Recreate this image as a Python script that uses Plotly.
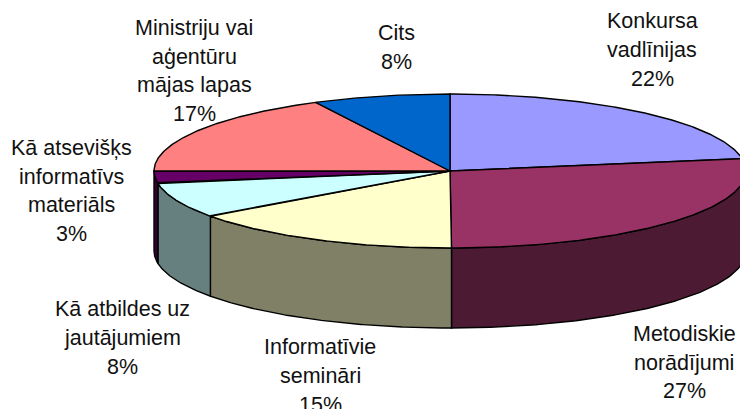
import numpy as np
import plotly.graph_objects as go

# --- data ---
categories = ["Konkursa<br>vadlīnijas", "Metodiskie<br>norādījumi", "Informatīvie<br>semināri",
              "Kā atbildes uz<br>jautājumiem", "Kā atsevišķs<br>informatīvs<br>materiāls",
              "Ministriju vai<br>aģentūru<br>mājas lapas", "Cits"]
values = [22.45, 27.49, 15.1, 7.4, 2.6, 17.5, 7.5]
percent_labels = ["22%", "27%", "15%", "8%", "3%", "17%", "8%"]

# --- styling ---
top_colors = ["#9999FF", "#993366", "#FFFFCC", "#CCFFFF", "#660066", "#FF8080", "#0066CC"]
side_colors = ["#4D1A33", "#4D1A33", "#808066", "#668080", "#330033", "#804040", "#003366"]
label_pos = [(652, 50), (684, 362.5), (320, 376), (122, 338), (71, 191), (194, 71), (396, 47.5)]
LINE_STEP = 28.6
CX, CY, RX, RY, DEPTH = 450, 171, 296, 77, 80
LINE = dict(color="black", width=1.4)
FONT = dict(family="Liberation Sans, Arial, sans-serif", size=21.5, color="#111111")


def ellipse(t_deg, dy=0):
    t = np.radians(t_deg)
    return CX + RX * np.sin(t), CY - RY * np.cos(t) + dy


fractions = np.array(values) / sum(values)
ends = np.cumsum(fractions) * 360
starts = ends - fractions * 360

fig = go.Figure()

# side walls: only the front half of the disc is visible
for s, e, col in zip(starts, ends, side_colors):
    a, b = max(s, 90), min(e, 270)
    if b <= a:
        continue
    t = np.linspace(a, b, 120)
    x1, y1 = ellipse(t)
    x2, y2 = ellipse(t[::-1], DEPTH)
    fig.add_trace(go.Scatter(x=np.r_[x1, x2, x1[0]], y=np.r_[y1, y2, y1[0]], mode="lines",
                             fill="toself", fillcolor=col, line=LINE, hoverinfo="skip"))

# top face
for s, e, col in zip(starts, ends, top_colors):
    t = np.linspace(s, e, 160)
    x1, y1 = ellipse(t)
    fig.add_trace(go.Scatter(x=np.r_[CX, x1, CX], y=np.r_[CY, y1, CY], mode="lines",
                             fill="toself", fillcolor=col, line=LINE, hoverinfo="skip"))

# labels: each line placed on its own so the line step matches the reference
for cat, pct, (lx, ly) in zip(categories, percent_labels, label_pos):
    lines = cat.split("<br>") + [pct]
    for i, ln in enumerate(lines):
        fig.add_annotation(x=lx, y=ly + (i - (len(lines) - 1) / 2) * LINE_STEP, text=ln,
                           showarrow=False, font=FONT, xanchor="center", yanchor="middle",
                           align="center")

fig.update_layout(width=740, height=409, margin=dict(l=0, r=0, t=0, b=0), showlegend=False,
                  paper_bgcolor="white", plot_bgcolor="white",
                  xaxis=dict(range=[0, 740], visible=False, fixedrange=True),
                  yaxis=dict(range=[409, 0], visible=False, fixedrange=True))

fig.write_html("out.html", config=dict(displayModeBar=False),
               post_script="document.body.style.margin='0';")
